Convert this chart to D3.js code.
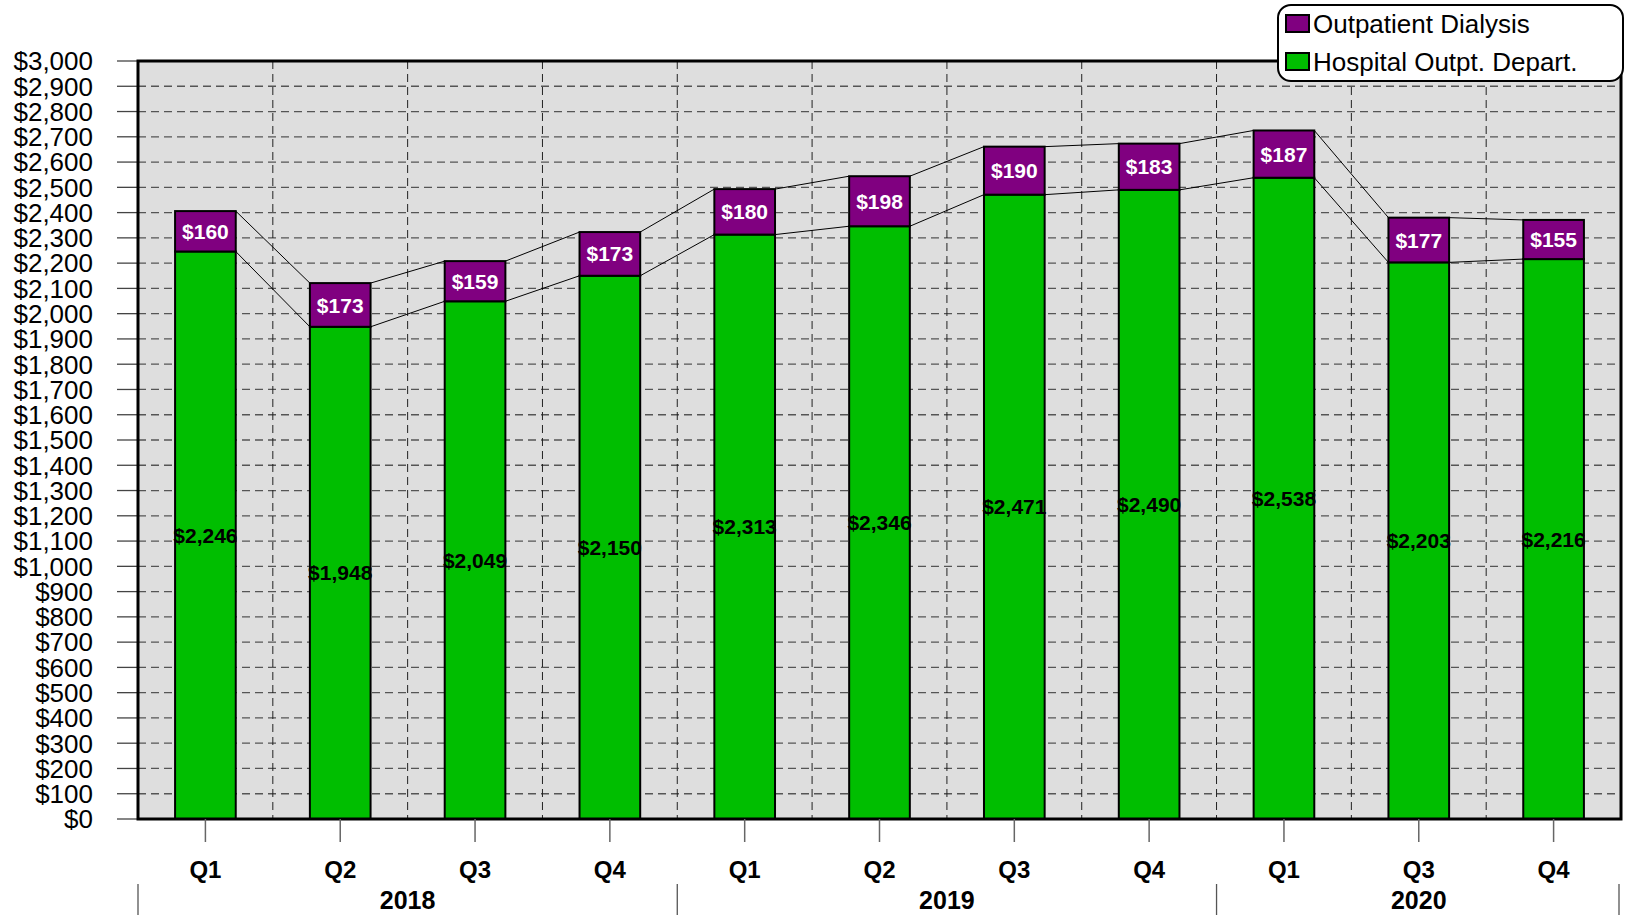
<!DOCTYPE html>
<html>
<head>
<meta charset="utf-8">
<script src="https://cdn.jsdelivr.net/npm/d3@7"></script>
<style>
    body { margin: 0; background: #fff; }
    svg { display: block; font-family: 'Liberation Sans', Arial, sans-serif; }
</style>
</head>
<body>
<div id="container"></div>
<script>
// chart data //
const quarters = ['Q1', 'Q2', 'Q3', 'Q4', 'Q1', 'Q2', 'Q3', 'Q4', 'Q1', 'Q3', 'Q4']
const years = ['2018', '2018', '2018', '2018', '2019', '2019', '2019', '2019', '2020', '2020', '2020']
const hospitalOutpt = [2246, 1948, 2049, 2150, 2313, 2346, 2471, 2490, 2538, 2203, 2216]
const outpatientDialysis = [160, 173, 159, 173, 180, 198, 190, 183, 187, 177, 155]
const yTicks = d3.range(0, 3001, 100)

const seriesNames = ['Outpatient Dialysis', 'Hospital Outpt. Depart.']
const seriesColors = ['#800080', '#00be00']

const width = 1625
const height = 915
const plot = { left: 138, right: 1621, top: 61, bottom: 819 }

const svg = d3
    .select('#container')
    .append('svg')
    .attr('width', width)
    .attr('height', height)

const keys = quarters.map((q, i) => i)

const x = d3.scaleBand().domain(keys).range([plot.left, plot.right]).paddingInner(0.55).paddingOuter(0.275)
const step = x.step()
const y = d3.scaleLinear().domain([0, 3000]).range([plot.bottom, plot.top])

const fmt = (v) => '$' + d3.format(',')(v)

// plot background
svg.append('rect')
    .attr('x', plot.left)
    .attr('y', plot.top)
    .attr('width', plot.right - plot.left)
    .attr('height', plot.bottom - plot.top)
    .attr('fill', '#dedede')

// horizontal grid
svg.append('g')
    .selectAll('line')
    .data(yTicks.filter((t) => t > 0 && t < 3000))
    .join('line')
    .attr('x1', plot.left)
    .attr('x2', plot.right)
    .attr('y1', (d) => y(d))
    .attr('y2', (d) => y(d))
    .attr('stroke', '#555')
    .attr('stroke-width', 1.3)
    .attr('stroke-dasharray', '8,5')

// vertical grid between quarters
svg.append('g')
    .selectAll('line')
    .data(d3.range(1, keys.length))
    .join('line')
    .attr('x1', (d) => plot.left + d * step)
    .attr('x2', (d) => plot.left + d * step)
    .attr('y1', plot.top)
    .attr('y2', plot.bottom)
    .attr('stroke', '#222')
    .attr('stroke-width', 1)
    .attr('stroke-dasharray', '8,5')

// y axis ticks and labels
const yAxis = svg.append('g')
yAxis.selectAll('line')
    .data(yTicks)
    .join('line')
    .attr('x1', 117)
    .attr('x2', plot.left)
    .attr('y1', (d) => y(d))
    .attr('y2', (d) => y(d))
    .attr('stroke', '#444')
    .attr('stroke-width', 1.3)
yAxis.selectAll('text')
    .data(yTicks)
    .join('text')
    .attr('x', 93)
    .attr('y', (d) => y(d))
    .attr('dy', '0.36em')
    .attr('text-anchor', 'end')
    .attr('font-size', 26)
    .attr('fill', '#000')
    .text((d) => fmt(d))

// connector lines between bars
const totals = hospitalOutpt.map((v, i) => v + outpatientDialysis[i])
const connectors = []
for (let i = 0; i < keys.length - 1; i++) {
    connectors.push({ i, a: hospitalOutpt[i], b: hospitalOutpt[i + 1] })
    connectors.push({ i, a: totals[i], b: totals[i + 1] })
}
svg.append('g')
    .selectAll('line')
    .data(connectors)
    .join('line')
    .attr('x1', (d) => x(d.i) + x.bandwidth())
    .attr('x2', (d) => x(d.i + 1))
    .attr('y1', (d) => y(d.a))
    .attr('y2', (d) => y(d.b))
    .attr('stroke', '#000')
    .attr('stroke-width', 1)

// bars
const bars = svg.append('g')
bars.selectAll('rect.hopd')
    .data(keys)
    .join('rect')
    .attr('class', 'hopd')
    .attr('x', (i) => x(i))
    .attr('width', x.bandwidth())
    .attr('y', (i) => y(hospitalOutpt[i]))
    .attr('height', (i) => y(0) - y(hospitalOutpt[i]))
    .attr('fill', seriesColors[1])
    .attr('stroke', '#000')
    .attr('stroke-width', 2)
bars.selectAll('rect.dial')
    .data(keys)
    .join('rect')
    .attr('class', 'dial')
    .attr('x', (i) => x(i))
    .attr('width', x.bandwidth())
    .attr('y', (i) => y(totals[i]))
    .attr('height', (i) => y(hospitalOutpt[i]) - y(totals[i]))
    .attr('fill', seriesColors[0])
    .attr('stroke', '#000')
    .attr('stroke-width', 2)

// value labels
svg.append('g')
    .selectAll('text')
    .data(keys)
    .join('text')
    .attr('x', (i) => x(i) + x.bandwidth() / 2)
    .attr('y', (i) => y(hospitalOutpt[i] / 2))
    .attr('dy', '0.36em')
    .attr('text-anchor', 'middle')
    .attr('font-size', 21)
    .attr('font-weight', 'bold')
    .attr('fill', '#000')
    .text((i) => fmt(hospitalOutpt[i]))
svg.append('g')
    .selectAll('text')
    .data(keys)
    .join('text')
    .attr('x', (i) => x(i) + x.bandwidth() / 2)
    .attr('y', (i) => y(hospitalOutpt[i] + outpatientDialysis[i] / 2))
    .attr('dy', '0.36em')
    .attr('text-anchor', 'middle')
    .attr('font-size', 21)
    .attr('font-weight', 'bold')
    .attr('fill', '#fff')
    .text((i) => fmt(outpatientDialysis[i]))

// plot frame
svg.append('rect')
    .attr('x', plot.left)
    .attr('y', plot.top)
    .attr('width', plot.right - plot.left)
    .attr('height', plot.bottom - plot.top)
    .attr('fill', 'none')
    .attr('stroke', '#000')
    .attr('stroke-width', 3)

// x axis: quarter ticks and labels
const xAxis = svg.append('g')
xAxis.selectAll('line')
    .data(keys)
    .join('line')
    .attr('x1', (i) => x(i) + x.bandwidth() / 2)
    .attr('x2', (i) => x(i) + x.bandwidth() / 2)
    .attr('y1', plot.bottom)
    .attr('y2', 842)
    .attr('stroke', '#666')
    .attr('stroke-width', 1.5)
xAxis.selectAll('text')
    .data(keys)
    .join('text')
    .attr('x', (i) => x(i) + x.bandwidth() / 2)
    .attr('y', 878)
    .attr('text-anchor', 'middle')
    .attr('font-size', 24)
    .attr('font-weight', 'bold')
    .text((i) => quarters[i])

// year groups
const yearGroups = d3.groups(keys, (i) => years[i]).map(([year, idx]) => ({
    year,
    start: plot.left + d3.min(idx) * step,
    end: plot.left + (d3.max(idx) + 1) * step
}))
const sepX = [plot.left].concat(yearGroups.map((g) => g.end))
xAxis.append('g')
    .selectAll('line')
    .data(sepX)
    .join('line')
    .attr('x1', (d) => Math.min(d, plot.right - 2))
    .attr('x2', (d) => Math.min(d, plot.right - 2))
    .attr('y1', 884)
    .attr('y2', height)
    .attr('stroke', '#555')
    .attr('stroke-width', 1.3)
xAxis.append('g')
    .selectAll('text')
    .data(yearGroups)
    .join('text')
    .attr('x', (d) => (d.start + d.end) / 2)
    .attr('y', 909)
    .attr('text-anchor', 'middle')
    .attr('font-size', 25)
    .attr('font-weight', 'bold')
    .text((d) => d.year)

// legend
const legend = svg.append('g')
legend.append('rect')
    .attr('x', 1278)
    .attr('y', 5)
    .attr('width', 345)
    .attr('height', 76)
    .attr('rx', 13)
    .attr('fill', '#fff')
    .attr('stroke', '#000')
    .attr('stroke-width', 2)
const legendItems = legend.selectAll('g')
    .data(seriesNames)
    .join('g')
    .attr('transform', (d, i) => `translate(0, ${i * 38})`)
legendItems.append('rect')
    .attr('x', 1286)
    .attr('y', 15)
    .attr('width', 23)
    .attr('height', 17)
    .attr('fill', (d, i) => seriesColors[i])
    .attr('stroke', '#000')
    .attr('stroke-width', 2)
legendItems.append('text')
    .attr('x', 1313)
    .attr('y', 33)
    .attr('font-size', 26)
    .text((d) => d)
</script>
</body>
</html>
